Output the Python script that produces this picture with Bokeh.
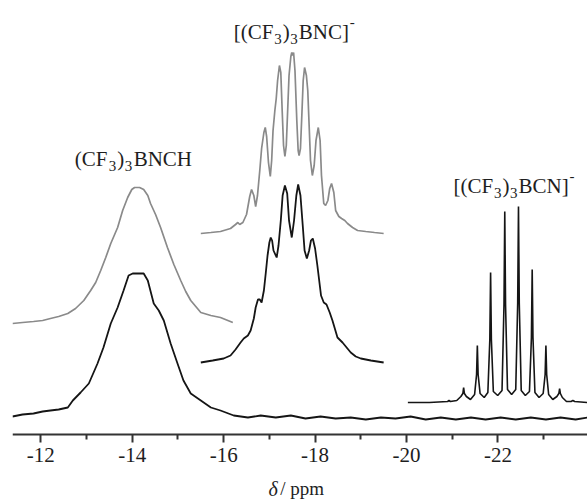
from bokeh.plotting import figure
from bokeh.models import Range1d, FixedTicker, Label, LinearAxis
from bokeh.embed import file_html
from bokeh.resources import INLINE

# ---------------- data (chemical shift in ppm, intensity in arbitrary units) -------------
# black trace: (CF3)3BNCH broad signal + baseline over full range
bnch_black_ppm = [-11.38, -11.60, -11.84, -12.04, -12.21, -12.39, -12.59, -12.70, -12.87, -13.05,
                  -13.24, -13.37, -13.53, -13.68, -13.81, -13.92, -14.01, -14.25, -14.34, -14.47,
                  -14.58, -14.69, -14.84, -14.99, -15.12, -15.28, -15.50, -15.72, -15.93, -16.22,
                  -16.53, -16.81, -17.14, -17.47, -17.79, -18.12, -18.45, -18.78, -19.11, -19.44,
                  -19.76, -20.09, -20.42, -20.75, -21.08, -21.41, -21.73, -22.06, -22.39, -22.72,
                  -23.05, -23.37, -23.70, -23.97]
bnch_black_int = [18, 20, 21, 23, 24, 25, 27, 34, 42, 51,
                  71, 87, 111, 127, 144, 159, 161, 161, 154, 131,
                  124, 114, 91, 71, 54, 41, 34, 27, 24, 19,
                  17, 19, 17, 19, 16, 18, 16, 17, 15, 17,
                  16, 18, 15, 17, 15, 17, 15, 17, 15, 17,
                  15, 17, 15, 17]

# grey trace: (CF3)3BNCH
bnch_grey_ppm = [-11.38, -11.60, -11.84, -12.04, -12.21, -12.39, -12.59, -12.76, -12.94, -13.09,
                 -13.20, -13.31, -13.42, -13.53, -13.68, -13.79, -13.90, -13.99, -14.05, -14.16,
                 -14.25, -14.34, -14.40, -14.51, -14.62, -14.77, -14.91, -15.06, -15.17, -15.28,
                 -15.39, -15.50, -15.72, -15.93, -16.20]
bnch_grey_int = [111, 112, 113, 114, 116, 118, 121, 126, 134, 144,
                 152, 164, 177, 191, 207, 224, 237, 245, 247, 247,
                 245, 239, 231, 220, 207, 187, 170, 154, 143, 134,
                 128, 122, 119, 117, 112]

# grey trace: [(CF3)3BNC]-
bnc_grey_ppm = [-15.50, -15.72, -15.93, -16.15, -16.26, -16.31, -16.35, -16.42, -16.50, -16.57,
                -16.61, -16.66, -16.70, -16.74, -16.79, -16.83, -16.88, -16.91, -16.94, -16.98,
                -17.02, -17.05, -17.08, -17.12, -17.15, -17.18, -17.22, -17.25, -17.28, -17.31,
                -17.34, -17.37, -17.40, -17.43, -17.47, -17.49, -17.51, -17.53, -17.56, -17.60,
                -17.63, -17.65, -17.68, -17.71, -17.74, -17.77, -17.81, -17.84, -17.87, -17.90,
                -17.94, -17.98, -18.02, -18.07, -18.11, -18.14, -18.19, -18.23, -18.28, -18.32,
                -18.36, -18.41, -18.45, -18.52, -18.58, -18.65, -18.71, -18.82, -18.93, -19.11,
                -19.30, -19.50]
bnc_grey_int = [201, 202, 203, 206, 210, 212, 210, 212, 220, 238,
                245, 239, 228, 239, 264, 286, 302, 307, 298, 272,
                258, 274, 304, 324, 336, 354, 369, 362, 324, 289,
                278, 289, 324, 359, 378, 382, 379, 382, 364, 314,
                284, 279, 286, 319, 354, 367, 359, 344, 309, 274,
                259, 269, 294, 307, 294, 259, 231, 229, 234, 246,
                251, 242, 224, 218, 216, 214, 211, 207, 204, 203,
                202, 201]

# black trace: [(CF3)3BNC]-
bnc_black_ppm = [-15.50, -15.76, -16.00, -16.15, -16.26, -16.37, -16.44, -16.53, -16.59, -16.66,
                 -16.70, -16.75, -16.79, -16.83, -16.88, -16.92, -16.96, -17.00, -17.03, -17.06,
                 -17.09, -17.16, -17.20, -17.25, -17.29, -17.34, -17.39, -17.43, -17.49, -17.54,
                 -17.59, -17.63, -17.68, -17.73, -17.77, -17.82, -17.87, -17.91, -17.95, -18.00,
                 -18.05, -18.09, -18.13, -18.19, -18.25, -18.32, -18.38, -18.49, -18.60, -18.69,
                 -18.78, -18.89, -19.00, -19.22, -19.50]
bnc_black_int = [72, 74, 76, 79, 85, 92, 96, 99, 104, 116,
                 127, 135, 135, 132, 144, 161, 179, 192, 197, 194,
                 184, 177, 189, 214, 239, 249, 241, 214, 197, 214,
                 239, 250, 239, 209, 184, 176, 184, 194, 196, 186,
                 169, 154, 139, 132, 130, 122, 114, 97, 92, 87,
                 82, 78, 76, 74, 72]

# black trace: [(CF3)3BCN]- (decet)
bcn_ppm = [-20.03, -20.50, -20.90, -20.93, -20.96, -21.10,
           -21.19, -21.233, -21.25, -21.267, -21.31, -21.40,
           -21.49, -21.533, -21.55, -21.567, -21.61, -21.70,
           -21.78, -21.823, -21.84, -21.857, -21.90, -21.995,
           -22.09, -22.133, -22.15, -22.167, -22.21, -22.30,
           -22.39, -22.433, -22.45, -22.467, -22.51, -22.60,
           -22.69, -22.733, -22.75, -22.767, -22.81, -22.90,
           -22.99, -23.033, -23.05, -23.067, -23.11, -23.20,
           -23.29, -23.333, -23.35, -23.367, -23.41, -23.50,
           -23.60, -23.64, -23.68, -23.97]
bcn_int = [32, 32, 33, 34, 33, 34,
           38, 41, 47, 41, 38, 35,
           40, 60, 89, 60, 41, 37,
           42, 95, 162, 95, 43, 39,
           44, 130, 223, 130, 45, 40,
           45, 132, 228, 132, 44, 39,
           43, 97, 165, 97, 42, 37,
           41, 60, 89, 60, 40, 35,
           38, 41, 46, 41, 37, 33,
           33, 34, 33, 32]

tick_values = [-12, -14, -16, -18, -20, -22]
tick_labels = ["-12", "-14", "-16", "-18", "-20", "-22"]
minor_values = [-13, -15, -17, -19, -21, -23]

BLACK = "#151515"
GREY = "#8a8a8a"
SERIF = "Liberation Serif"
TXT = "#1e1e1e"

p = figure(width=587, height=502, output_backend="svg", toolbar_location=None,
           x_range=Range1d(-11.38, -23.96), y_range=Range1d(-68, 434),
           x_axis_type=None, y_axis_type=None,
           min_border_left=12, min_border_right=0, min_border_top=0, min_border_bottom=0)
p.outline_line_color = None
p.grid.visible = False
p.background_fill_color = "white"

p.line(bnch_black_ppm, bnch_black_int, line_color=BLACK, line_width=1.8)
p.line(bnch_grey_ppm, bnch_grey_int, line_color=GREY, line_width=1.7)
p.line(bnc_grey_ppm, bnc_grey_int, line_color=GREY, line_width=1.7)
p.line(bnc_black_ppm, bnc_black_int, line_color=BLACK, line_width=1.8)
p.line(bcn_ppm, bcn_int, line_color=BLACK, line_width=1.6)

ax = LinearAxis(ticker=FixedTicker(ticks=tick_values, minor_ticks=minor_values), fixed_location=0)
ax.major_label_overrides = {v: s for v, s in zip(tick_values, tick_labels)}
ax.axis_line_color = "#333333"
ax.axis_line_width = 2
ax.major_tick_line_color = "#333333"
ax.major_tick_line_width = 2
ax.minor_tick_line_color = "#333333"
ax.minor_tick_line_width = 2
ax.major_tick_out = 8
ax.major_tick_in = 0
ax.minor_tick_out = 5
ax.minor_tick_in = 0
ax.major_label_standoff = 5
ax.major_label_text_font = SERIF
ax.major_label_text_font_size = "21px"
ax.major_label_text_color = TXT
p.add_layout(ax, "below")

# axis title: italic delta + "/ ppm"
p.add_layout(Label(x=-16.98, y=-54, text="δ", text_font=SERIF, text_font_style="italic",
                   text_font_size="20px", text_color=TXT, text_baseline="alphabetic"))
p.add_layout(Label(x=-17.24, y=-54, text="/ ppm", text_font=SERIF,
                   text_font_size="19px", text_color=TXT, text_baseline="alphabetic"))


def formula(x, y, pieces):
    # pieces: (text, x offset px, y shift, size)
    for txt, dx, dy, size in pieces:
        p.add_layout(Label(x=x, y=y + dy, x_offset=dx, text=txt, text_font=SERIF,
                           text_font_size=size, text_color=TXT,
                           text_baseline="alphabetic"))


formula(-12.74, 276, [("(CF", 0, 0, "21px"), ("3", 34, -7, "15px"), (")", 42.5, 0, "21px"),
                      ("3", 50, -7, "15px"), ("BNCH", 59, 0, "21px")])
formula(-16.22, 403, [("[(CF", 0, 0, "21px"), ("3", 40.5, -7, "15px"), (")", 49, 0, "21px"),
                      ("3", 56.5, -7, "15px"), ("BNC]", 65, 0, "21px"), ("-", 116, 10, "15px")])
formula(-21.03, 249, [("[(CF", 0, 0, "21px"), ("3", 40.5, -7, "15px"), (")", 49, 0, "21px"),
                      ("3", 56.5, -7, "15px"), ("BCN]", 65, 0, "21px"), ("-", 116, 10, "15px")])

open("out.html", "w").write(file_html(p, INLINE))
